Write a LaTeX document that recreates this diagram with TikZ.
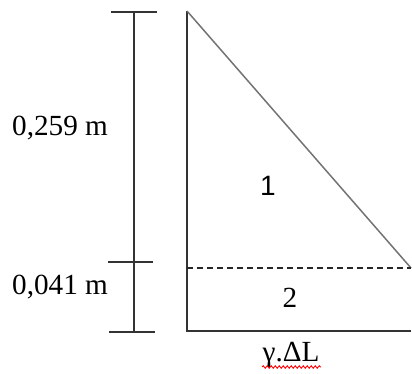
\documentclass[tikz,border=0pt]{standalone}
\usepackage{fontspec}
\setmainfont{Liberation Serif}
\newfontfamily\sansone{Liberation Sans}
\usetikzlibrary{decorations.pathmorphing}
\begin{document}
\begin{tikzpicture}[x=1pt,y=-1pt,
  frame/.style={line width=1.9pt,draw=black!80},
  dimline/.style={line width=1.9pt,draw=black!80},
  diag/.style={line width=1.5pt,draw=black!55},
  dashline/.style={line width=1.3pt,draw=black!85,dash pattern=on 6pt off 4pt},
  lbl/.style={font=\fontsize{29.2}{33}\selectfont,inner sep=0pt}]
\useasboundingbox (0,0) rectangle (412,373);
% geometry
\coordinate (A) at (187,11);
\coordinate (B) at (187,331);
\coordinate (C) at (411,331);
\coordinate (D) at (411,268);
\coordinate (E) at (187,268);
\draw[frame] (A) -- (B) -- (C);
\draw[diag] (A) -- (D);
\draw[dashline] (E) -- (D);
% dimension line
\coordinate (t1) at (111,12); \coordinate (t2) at (157,12);
\coordinate (m1) at (108,262); \coordinate (m2) at (153,262);
\coordinate (b1) at (109,332); \coordinate (b2) at (155,332);
\coordinate (vt) at (134,12); \coordinate (vb) at (134,332);
\draw[dimline] (t1) -- (t2);
\draw[dimline] (m1) -- (m2);
\draw[dimline] (b1) -- (b2);
\draw[dimline] (vt) -- (vb);
% labels
\node[lbl,anchor=west] (h1) at (12,128) {0,259 m};
\node[lbl,anchor=west] (h2) at (12,287) {0,041 m};
\node[lbl,font=\sansone\fontsize{28}{32}\selectfont] (n1) at (268,186) {1};
\node[lbl] (n2) at (290,298) {2};
\node[lbl] (g) at (291,355) {γ.ΔL};
\draw[red,line width=0.9pt,decorate,decoration={snake,amplitude=1.2pt,segment length=4pt}] (262,367) -- (321,367);
\end{tikzpicture}
\end{document}
